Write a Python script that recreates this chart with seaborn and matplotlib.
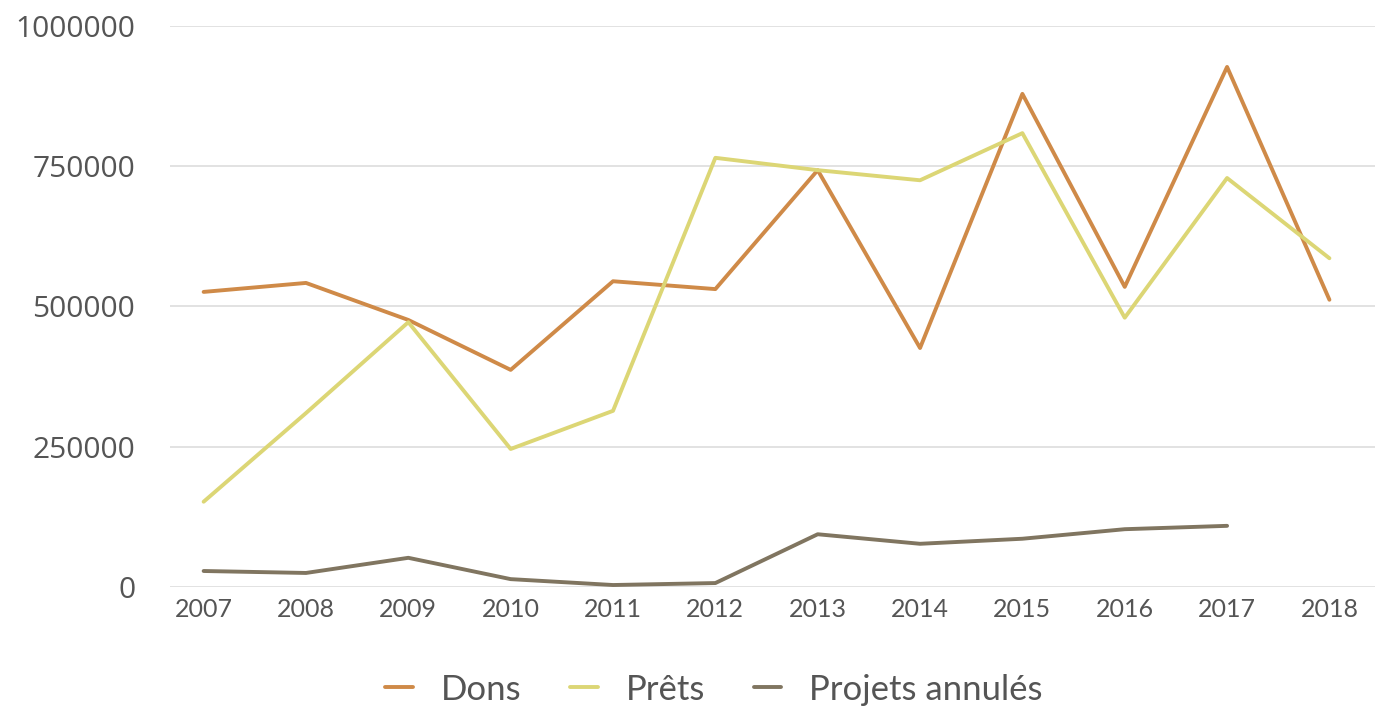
import numpy as np
import pandas as pd
import seaborn as sns
from matplotlib import pyplot as plt

years = [2007, 2008, 2009, 2010, 2011, 2012, 2013, 2014, 2015, 2016, 2017, 2018]
dons = [526000, 542000, 476000, 387000, 545000, 531000, 743000, 426000, 879000, 535000, 927000, 512000]
prets = [152000, 310000, 472000, 246000, 314000, 765000, 743000, 725000, 809000, 480000, 729000, 586000]
projets_annules = [28500, 25000, 52000, 14000, 3500, 7000, 94000, 77000, 86000, 103000, 109000, np.nan]

series_names = ["Dons", "Prêts", "Projets annulés"]
colors = ["#CF8A48", "#DCD675", "#807560"]

df = pd.DataFrame({"annee": years * 3,
                   "valeur": dons + prets + projets_annules,
                   "serie": [series_names[0]] * 12 + [series_names[1]] * 12 + [series_names[2]] * 12})

sns.set_theme(style="white")
plt.rcParams['font.family'] = ['Open Sans', 'DejaVu Sans']

fig = plt.figure(figsize=(13.81, 7.22), dpi=100)
ax = fig.add_axes([0.123, 0.187, 0.873, 0.777])

sns.lineplot(data=df, x="annee", y="valeur", hue="serie", palette=colors,
             linewidth=2.8, ax=ax, legend=False)

ax.set_xlim(2006.67, 2018.45)
ax.set_ylim(0, 1000000)
ax.set_yticks([0, 250000, 500000, 750000, 1000000])
ax.set_yticklabels(["0", "250000", "500000", "750000", "1000000"], fontsize=21.5, color="#555555")
ax.set_xticks(years)
ax.set_xticklabels([str(y) for y in years], fontsize=18, color="#555555",
                   family=['Lato', 'DejaVu Sans'])
ax.tick_params(axis='y', pad=25, length=0)
ax.tick_params(axis='x', pad=8, length=0)
ax.grid(axis='y', color="#DDDDDD", linewidth=1.2)
ax.set_xlabel("")
ax.set_ylabel("")
for s in ["top", "right", "left", "bottom"]:
    ax.spines[s].set_visible(False)

handles = [plt.Line2D([], [], color=c, linewidth=2.8) for c in colors]
leg = fig.legend(handles, series_names, loc="center", bbox_to_anchor=(0.517, 0.045),
                 ncol=3, frameon=False, handlelength=0.8, handletextpad=0.8, columnspacing=1.4,
                 prop={'family': ['Lato', 'DejaVu Sans'], 'size': 25})
for t in leg.get_texts():
    t.set_color("#555555")

fig.savefig("out.png", dpi=100, facecolor="white")
